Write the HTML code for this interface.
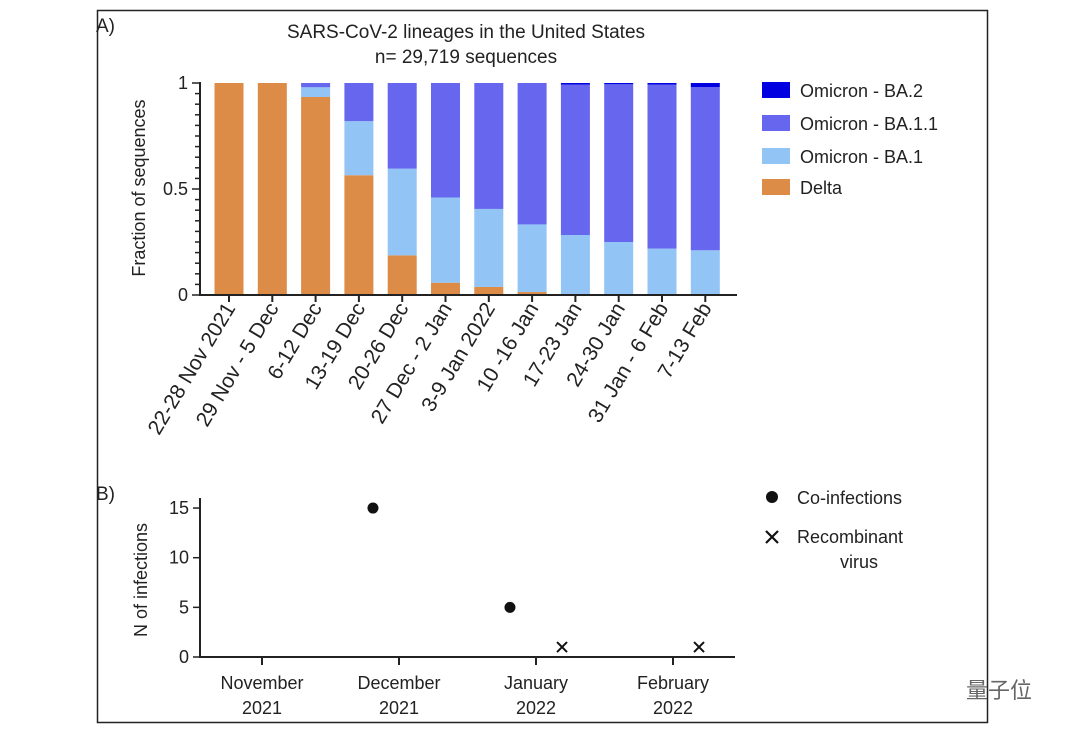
<!DOCTYPE html>
<html><head><meta charset="utf-8">
<style>
html,body{margin:0;padding:0;background:#fff;}
body{width:1080px;height:739px;overflow:hidden;font-family:"Liberation Sans","Noto Sans CJK SC",sans-serif;}
svg text{font-family:"Liberation Sans","Noto Sans CJK SC",sans-serif;fill:#222;}
</style></head><body>
<svg id="chart" width="1080" height="739" viewBox="0 0 1080 739" xmlns="http://www.w3.org/2000/svg">
<rect x="97.5" y="10.5" width="890" height="712" fill="none" stroke="#222" stroke-width="1.5"/>
<text x="96" y="32" font-size="19">A)</text>
<text x="96" y="500" font-size="19">B)</text>
<text x="466" y="38" font-size="19" text-anchor="middle">SARS-CoV-2 lineages in the United States</text>
<text x="466" y="63" font-size="19" text-anchor="middle">n= 29,719 sequences</text>
<g id="topChart"></g>
<g id="bottomChart"></g>
<g>
<g><rect x="762" y="82" width="28" height="16" fill="#0000e0"/><text x="800" y="97" font-size="18">Omicron - BA.2</text></g>
<g><rect x="762" y="115" width="28" height="16" fill="#6666ee"/><text x="800" y="130" font-size="18">Omicron - BA.1.1</text></g>
<g><rect x="762" y="148" width="28" height="16" fill="#92c5f5"/><text x="800" y="163" font-size="18">Omicron - BA.1</text></g>
<g><rect x="762" y="179" width="28" height="16" fill="#dc8c46"/><text x="800" y="194" font-size="18">Delta</text></g>
</g>
<g>
<g><circle cx="772" cy="497" r="6" fill="#111"/><text x="797" y="504" font-size="18">Co-infections</text></g>
<g><path d="M766 531 L778 543 M778 531 L766 543" stroke="#111" stroke-width="2.2"/><text x="797" y="543" font-size="18">Recombinant</text><text x="859" y="568" font-size="18" text-anchor="middle">virus</text></g>
</g>
<text x="966" y="698" font-size="22" style="fill:#666">量子位</text>
</svg>
<script>
const categories=["22-28 Nov 2021","29 Nov - 5 Dec","6-12 Dec","13-19 Dec","20-26 Dec","27 Dec - 2 Jan","3-9 Jan 2022","10 -16 Jan","17-23 Jan","24-30 Jan","31 Jan - 6 Feb","7-13 Feb"];
const delta=[1,1,0.934,0.565,0.187,0.058,0.038,0.014,0,0,0,0];
const ba1=[0,0,0.046,0.255,0.409,0.402,0.368,0.319,0.283,0.25,0.219,0.211];
const ba2=[0,0,0,0,0,0,0,0,0.007,0.006,0.007,0.019];
const yTicksA=[0,0.5,1];
const yTickLabelsA=["0","0.5","1"];
const months=["November|2021","December|2021","January|2022","February|2022"];
const coinfX=[0.81,1.81];
const coinfY=[15,5];
const recombX=[2.19,3.19];
const recombY=[1,1];
const yTicksB=[0,5,10,15];

const NS="http://www.w3.org/2000/svg";
function mk(p,t,a){const e=document.createElementNS(NS,t);for(const k in a)e.setAttribute(k,a[k]);p.appendChild(e);return e;}
const gTop=document.getElementById('topChart'), gBot=document.getElementById('bottomChart');
const ay=v=>295-v*212;
const ax=i=>229+i*43.3;
const bw=29;
categories.forEach((c,i)=>{
  const d=delta[i],b1=ba1[i],b2=ba2[i],b11=Math.max(0,1-d-b1-b2);
  const segs=[[0,d,"#dc8c46","delta"],[d,b1,"#92c5f5","ba1"],[d+b1,b11,"#6666ee","ba11"],[d+b1+b11,b2,"#0000e0","ba2"]];
  segs.forEach(s=>{if(s[1]<=0)return;
    const r=mk(gTop,'rect',{x:ax(i)-bw/2,y:ay(s[0]+s[1]),width:bw,height:ay(s[0])-ay(s[0]+s[1]),fill:s[2]});
    
    
  });
  const t=mk(gTop,'line',{x1:ax(i),x2:ax(i),y1:295,y2:302,stroke:'#222','stroke-width':2});
  
  
  const lx=ax(i)+7, lyy=308;
  const l=mk(gTop,'text',{x:lx,y:lyy,'font-size':21,'text-anchor':'end',transform:`rotate(-59 ${lx} ${lyy})`});
  l.textContent=c;
  
  
});
let ln=mk(gTop,'line',{x1:200,x2:737,y1:295,y2:295,stroke:'#222','stroke-width':2});


ln=mk(gTop,'line',{x1:200,x2:200,y1:82,y2:296,stroke:'#222','stroke-width':2});


for(let k=0;k<=20;k++){const v=k/20;const major=k%10===0;
  const t=mk(gTop,'line',{x1:major?192:195,x2:200,y1:ay(v),y2:ay(v),stroke:'#222','stroke-width':1.5});
  
  }
yTicksA.forEach((v,i)=>{const t=mk(gTop,'text',{x:188,y:ay(v)+6,'font-size':18,'text-anchor':'end'});t.textContent=yTickLabelsA[i];
  
  });
let yt=mk(gTop,'text',{x:145,y:188,'font-size':18,'text-anchor':'middle',transform:'rotate(-90 145 188)'});
yt.textContent="Fraction of sequences";



const by=v=>657-v*9.93;
const bx=m=>262+m*137;
ln=mk(gBot,'line',{x1:200,x2:735,y1:657,y2:657,stroke:'#222','stroke-width':2});


ln=mk(gBot,'line',{x1:200,x2:200,y1:498,y2:658,stroke:'#222','stroke-width':2});


yTicksB.forEach(v=>{
  const t=mk(gBot,'line',{x1:193,x2:200,y1:by(v),y2:by(v),stroke:'#222','stroke-width':1.5});
  
  
  const l=mk(gBot,'text',{x:189,y:by(v)+6,'font-size':18,'text-anchor':'end'});l.textContent=String(v);
  
  
});
months.forEach((m,i)=>{
  const t=mk(gBot,'line',{x1:bx(i),x2:bx(i),y1:657,y2:665,stroke:'#222','stroke-width':2});
  
  
  const p=m.split('|');
  const a=mk(gBot,'text',{x:bx(i),y:689,'font-size':18,'text-anchor':'middle'});a.textContent=p[0];
  
  
  const b=mk(gBot,'text',{x:bx(i),y:714,'font-size':18,'text-anchor':'middle'});b.textContent=p[1];
  
  
});
coinfX.forEach((m,i)=>{const c=mk(gBot,'circle',{cx:bx(m),cy:by(coinfY[i]),r:5.5,fill:'#111'});
  
  });
recombX.forEach((m,i)=>{const x=bx(m),y=by(recombY[i]);
  const c=mk(gBot,'path',{d:`M${x-5} ${y-5} L${x+5} ${y+5} M${x+5} ${y-5} L${x-5} ${y+5}`,stroke:'#111','stroke-width':2});
  
  });
yt=mk(gBot,'text',{x:147,y:580,'font-size':18,'text-anchor':'middle',transform:'rotate(-90 147 580)'});
yt.textContent="N of infections";


</script>
</body></html>
